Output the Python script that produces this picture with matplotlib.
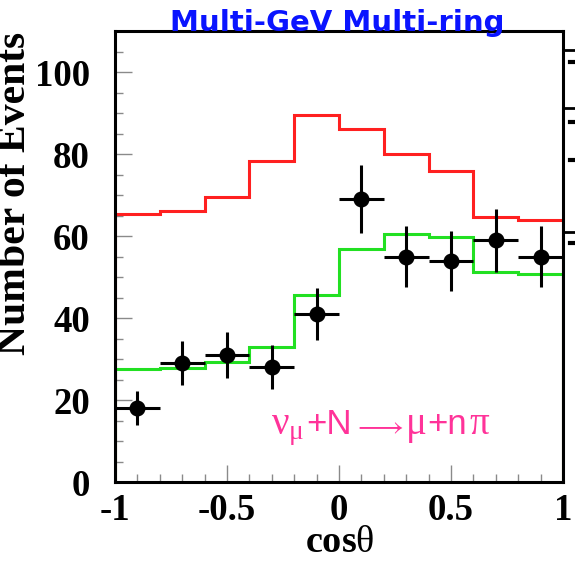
import matplotlib
matplotlib.use("Agg")
import matplotlib.pyplot as plt
import numpy as np
from matplotlib.lines import Line2D
from matplotlib.ticker import MultipleLocator
from matplotlib.offsetbox import TextArea, HPacker, AnchoredOffsetbox

# cos(theta) bins, 10 bins from -1 to 1
bin_edges = [-1.0, -0.8, -0.6, -0.4, -0.2, 0.0, 0.2, 0.4, 0.6, 0.8, 1.0]
bin_centers = [-0.9, -0.7, -0.5, -0.3, -0.1, 0.1, 0.3, 0.5, 0.7, 0.9]

# MC without oscillation (red) and with oscillation (green)
mc_no_osc = [65.3, 66.0, 69.4, 78.2, 89.4, 86.0, 79.9, 75.8, 64.7, 64.0]
mc_osc = [27.5, 27.7, 29.3, 33.0, 45.7, 56.8, 60.6, 59.8, 51.3, 50.7]

# data points
data_counts = [18, 29, 31, 28, 41, 69, 55, 54, 59, 55]
data_err = [4.2, 5.4, 5.6, 5.3, 6.4, 8.3, 7.4, 7.3, 7.7, 7.4]

plt.rcParams['mathtext.fontset'] = 'custom'
plt.rcParams['mathtext.rm'] = 'Liberation Serif'
plt.rcParams['mathtext.it'] = 'Liberation Serif'
plt.rcParams['mathtext.fallback'] = 'stix'

W, H = 575, 561
fig = plt.figure(figsize=(W / 100, H / 100), dpi=100)
ax = fig.add_axes([115 / W, 1 - 482 / H, (563 - 115) / W, (482 - 31) / H])

ax.hist(bin_centers, bins=bin_edges, weights=mc_no_osc, histtype='step',
        color='#ff2020', lw=2.2)
ax.hist(bin_centers, bins=bin_edges, weights=mc_osc, histtype='step',
        color='#22e022', lw=2.2)
ax.errorbar(bin_centers, data_counts, yerr=data_err, xerr=0.1, fmt='o',
            color='black', ms=10.5, elinewidth=2.2, capsize=0, zorder=5)

ax.set_xlim(-1, 1)
ax.set_ylim(0, 110)
ax.xaxis.set_minor_locator(MultipleLocator(0.1))
ax.yaxis.set_major_locator(MultipleLocator(20))
ax.yaxis.set_minor_locator(MultipleLocator(5))
ax.set_xticks([-1, -0.5, 0, 0.5, 1])
ax.set_xticklabels(['-1', '-0.5', '0', '0.5', '1'])

ax.tick_params(which='both', direction='in', top=False, right=False,
               color='#8a8a8a', width=1.0)
ax.tick_params(which='major', length=12)
ax.tick_params(which='minor', length=6)
ax.tick_params(axis='y', which='major', pad=18)
ax.tick_params(axis='x', which='major', pad=8)
for lab in ax.get_xticklabels() + ax.get_yticklabels():
    lab.set_fontfamily('Liberation Serif')
    lab.set_fontweight('bold')
    lab.set_fontsize(26.5)
for sp in ax.spines.values():
    sp.set_linewidth(2.2)

fig.text(34 / W, 1 - 193 / H, 'Number of Events', rotation=90,
         ha='right', va='center', family='Liberation Serif',
         weight='bold', fontsize=30)
fig.text(340 / W, 1 - 552 / H, r'cos$\theta$', ha='center', va='baseline',
         family='Liberation Serif', weight='bold', fontsize=27.5)
fig.text(337 / W, 1 - 31 / H, 'Multi-GeV Multi-ring', ha='center',
         va='baseline', family='DejaVu Sans', weight='bold',
         fontsize=21, color='#0a14ff')

# nu_mu + N -> mu + n pi, greek in serif, the rest in sans
pink = '#ff3399'
serif = dict(color=pink, family='Liberation Serif', fontsize=28)
sans = dict(color=pink, family='Liberation Sans', fontsize=25)
parts = [
    TextArea(r'$\mathrm{\nu}_{\mathrm{\mu}}$', textprops=serif),
    TextArea('+N', textprops=sans),
    TextArea(r'$\longrightarrow$', textprops=dict(color=pink, fontsize=21)),
    TextArea(r'$\mathrm{\mu}$', textprops=serif),
    TextArea('+n', textprops=sans),
    TextArea(r'$\mathrm{\pi}$', textprops=serif),
]
box = HPacker(children=parts, align='baseline', pad=0, sep=1)
anchored = AnchoredOffsetbox(loc='lower left', child=box, frameon=False,
                             bbox_to_anchor=(271 / W, 1 - 448 / H),
                             bbox_transform=fig.transFigure, borderpad=0,
                             pad=0)
fig.add_artist(anchored)

# fragments of the neighbouring panel cut off at the right edge
for yy in [50, 108, 232]:
    fig.add_artist(Line2D([565 / W, 1.0], [1 - yy / H] * 2, color='black',
                          lw=2, transform=fig.transFigure))
for yy in [62, 122, 160, 243]:
    fig.add_artist(Line2D([570 / W, 575 / W], [1 - yy / H] * 2, color='black',
                          lw=3, transform=fig.transFigure))

fig.savefig('out.png', dpi=100)
